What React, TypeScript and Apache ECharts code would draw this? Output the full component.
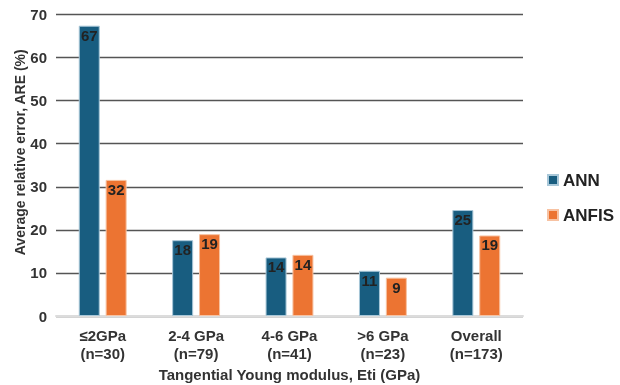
import React, { useEffect, useRef } from "react";
import * as echarts from "echarts";

const categories = [
  "≤2GPa\n(n=30)",
  "2-4 GPa\n(n=79)",
  "4-6 GPa\n(n=41)",
  ">6 GPa\n(n=23)",
  "Overall\n(n=173)",
];
const annValues = [67.4, 17.6, 13.6, 10.5, 24.6];
const anfisValues = [31.6, 19.0, 14.2, 8.9, 18.7];
const yTicks = { min: 0, max: 70, interval: 10 };

const FONT = "Liberation Sans, Arial, sans-serif";

export default function App() {
  const ref = useRef<HTMLDivElement>(null);

  useEffect(() => {
    if (!ref.current) return;
    const chart = echarts.init(ref.current, undefined, { renderer: "svg" });

    const valueLabel = {
      show: true,
      position: "insideTop" as const,
      distance: 2,
      color: "#222",
      fontFamily: FONT,
      fontWeight: "bold" as const,
      fontSize: 15,
      formatter: (p: any) => Number(p.value).toFixed(0),
    };

    const axisText = {
      fontFamily: FONT,
      fontWeight: "bold" as const,
      fontSize: 15,
      color: "#333",
    };

    chart.setOption({
      animation: false,
      textStyle: { fontFamily: FONT },
      grid: {
        left: 56,
        right: 97,
        top: 14.5,
        bottom: 69,
        containLabel: false,
        outerBoundsMode: "none",
      },
      legend: {
        orient: "vertical",
        left: 547,
        top: 170,
        padding: 0,
        itemWidth: 10,
        itemHeight: 10,
        itemGap: 15,
        icon: "rect",
        textStyle: {
          fontFamily: FONT,
          fontWeight: "bold",
          fontSize: 17,
          color: "#222",
          lineHeight: 20,
        },
        data: ["ANN", "ANFIS"],
      },
      xAxis: {
        type: "category",
        data: categories,
        name: "Tangential Young modulus, Eti (GPa)",
        nameLocation: "middle",
        nameGap: 49,
        nameTextStyle: axisText,
        axisLine: { show: true, lineStyle: { color: "#dcdcdc", width: 2 } },
        axisTick: { show: false },
        axisLabel: { ...axisText, lineHeight: 18, margin: 10 },
      },
      yAxis: {
        type: "value",
        min: yTicks.min,
        max: yTicks.max,
        interval: yTicks.interval,
        name: "Average relative error, ARE (%)",
        nameLocation: "middle",
        nameGap: 29,
        nameMoveOverlap: false,
        nameTextStyle: {
          ...axisText,
          fontSize: 14,
          padding: [0, 0, 0, 26],
        },
        axisLine: { show: false },
        axisTick: { show: false },
        axisLabel: { ...axisText, margin: 9 },
        splitLine: {
          show: true,
          lineStyle: { color: "#555", width: 1.3 },
        },
      },
      series: [
        {
          name: "ANN",
          type: "bar",
          data: annValues,
          barWidth: 21,
          barGap: "28%",
          itemStyle: {
            color: "#185d80",
            borderColor: "#a8c7d8",
            borderWidth: 1,
          },
          label: valueLabel,
        },
        {
          name: "ANFIS",
          type: "bar",
          data: anfisValues,
          barWidth: 21,
          itemStyle: {
            color: "#ec7432",
            borderColor: "#f7c2a2",
            borderWidth: 1,
          },
          label: valueLabel,
        },
      ],
    });

    return () => chart.dispose();
  }, []);

  return (
    <div
      ref={ref}
      style={{ position: "fixed", left: 0, top: 0, width: 620, height: 385 }}
    />
  );
}
